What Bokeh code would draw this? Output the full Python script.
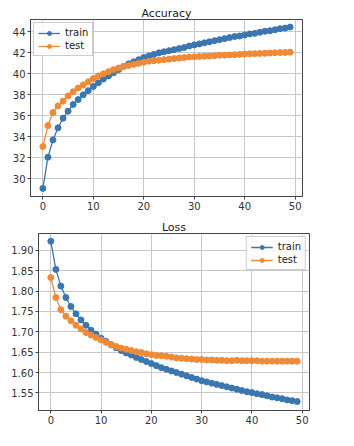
from bokeh.plotting import figure
from bokeh.layouts import column, row
from bokeh.models import Range1d, Legend, LegendItem, FixedTicker, CustomJSTickFormatter
from bokeh.embed import file_html
from bokeh.resources import INLINE

epochs = list(range(50))

acc_train = [29.1, 32.07, 33.71, 34.86, 35.78, 36.45, 37.08, 37.55, 38.0, 38.4,
             38.8, 39.15, 39.5, 39.8, 40.1, 40.4, 40.7, 40.95, 41.15, 41.35,
             41.55, 41.7, 41.85, 42.0, 42.1, 42.2, 42.3, 42.4, 42.5, 42.65,
             42.75, 42.85, 42.95, 43.05, 43.15, 43.25, 43.35, 43.45, 43.55, 43.6,
             43.7, 43.8, 43.85, 43.95, 44.05, 44.1, 44.2, 44.3, 44.35, 44.45]
acc_test = [33.08, 35.08, 36.31, 36.95, 37.4, 37.9, 38.3, 38.65, 38.95, 39.25,
            39.55, 39.8, 40.0, 40.2, 40.4, 40.55, 40.7, 40.8, 40.9, 41.0,
            41.1, 41.2, 41.25, 41.3, 41.35, 41.4, 41.45, 41.5, 41.55, 41.6,
            41.62, 41.65, 41.68, 41.7, 41.73, 41.76, 41.78, 41.8, 41.82, 41.85,
            41.88, 41.9, 41.92, 41.94, 41.96, 41.98, 42.0, 42.02, 42.04, 42.06]

loss_train = [1.922, 1.853, 1.812, 1.784, 1.762, 1.744, 1.729, 1.716, 1.704, 1.694,
              1.684, 1.676, 1.668, 1.661, 1.654, 1.648, 1.643, 1.637, 1.632, 1.627,
              1.622, 1.617, 1.612, 1.608, 1.604, 1.600, 1.596, 1.592, 1.588, 1.584,
              1.580, 1.577, 1.574, 1.571, 1.568, 1.565, 1.562, 1.559, 1.556, 1.553,
              1.551, 1.548, 1.546, 1.543, 1.540, 1.538, 1.536, 1.533, 1.531, 1.529]
loss_test = [1.833, 1.784, 1.754, 1.738, 1.727, 1.716, 1.707, 1.698, 1.692, 1.686,
             1.680, 1.674, 1.669, 1.664, 1.660, 1.657, 1.654, 1.651, 1.649, 1.646,
             1.644, 1.642, 1.641, 1.640, 1.638, 1.636, 1.635, 1.634, 1.633, 1.632,
             1.632, 1.631, 1.631, 1.630, 1.630, 1.629, 1.629, 1.630, 1.629, 1.629,
             1.629, 1.629, 1.628, 1.628, 1.628, 1.628, 1.628, 1.628, 1.628, 1.628]

x_ticks = [0, 10, 20, 30, 40, 50]
acc_ticks = [30, 32, 34, 36, 38, 40, 42, 44]
loss_ticks = [1.55, 1.60, 1.65, 1.70, 1.75, 1.80, 1.85, 1.90]

BLUE = "#3a76b0"
ORANGE = "#ef8a38"
FONT = "DejaVu Sans"


def style(p, yticks):
    p.title.text_font = FONT
    p.title.text_font_size = "11px"
    p.title.text_font_style = "normal"
    p.title.text_color = "#222222"
    p.title.align = "center"
    p.title.standoff = 0
    p.title.offset = 0
    p.title.text_line_height = 1.0
    p.outline_line_color = "#444444"
    p.outline_line_width = 1
    for ax in (p.xaxis[0], p.yaxis[0]):
        ax.axis_line_color = "#444444"
        ax.major_tick_line_color = "#444444"
        ax.major_tick_out = 3
        ax.major_tick_in = 0
        ax.minor_tick_line_color = None
        ax.major_label_text_font = FONT
        ax.major_label_text_font_size = "10px"
        ax.major_label_text_color = "#333333"
        ax.major_label_standoff = 2
        ax.axis_label_standoff = 0
    p.xaxis[0].ticker = FixedTicker(ticks=x_ticks)
    p.yaxis[0].ticker = FixedTicker(ticks=yticks)
    p.xgrid.ticker = FixedTicker(ticks=x_ticks)
    p.ygrid.ticker = FixedTicker(ticks=yticks)
    p.grid.grid_line_color = "#c8c8c8"
    p.grid.grid_line_width = 1
    p.background_fill_color = "white"
    p.border_fill_color = "white"


def add_series(p, ys, color):
    r1 = p.line(epochs, ys, line_color=color, line_width=1.3)
    r2 = p.scatter(epochs, ys, size=6, fill_color=color, line_color=color)
    return [r1, r2]


p1 = figure(frame_width=272, frame_height=177, title="Accuracy", output_backend="svg",
            toolbar_location=None, x_range=Range1d(-2.45, 51.45),
            y_range=Range1d(28.33, 45.17),
            min_border_left=30, min_border_right=52, min_border_top=19,
            min_border_bottom=19)
style(p1, acc_ticks)
tr1 = add_series(p1, acc_train, BLUE)
te1 = add_series(p1, acc_test, ORANGE)
leg1 = Legend(items=[LegendItem(label="train", renderers=tr1),
                     LegendItem(label="test", renderers=te1)],
              location="top_left")
p1.add_layout(leg1)

p2 = figure(frame_width=271, frame_height=177, title="Loss", output_backend="svg",
            toolbar_location=None, x_range=Range1d(-2.45, 51.45),
            y_range=Range1d(1.507, 1.941),
            min_border_left=38, min_border_right=45, min_border_top=18,
            min_border_bottom=36)
style(p2, loss_ticks)
p2.yaxis[0].formatter = CustomJSTickFormatter(code="return tick.toFixed(2);")
tr2 = add_series(p2, loss_train, BLUE)
te2 = add_series(p2, loss_test, ORANGE)
leg2 = Legend(items=[LegendItem(label="train", renderers=tr2),
                     LegendItem(label="test", renderers=te2)],
              location="top_right")
p2.add_layout(leg2)

for leg in (leg1, leg2):
    leg.label_text_font = FONT
    leg.label_text_font_size = "10px"
    leg.label_text_color = "#222222"
    leg.glyph_width = 22
    leg.glyph_height = 10
    leg.label_height = 10
    leg.spacing = 2
    leg.padding = 4
    leg.margin = 3
    leg.border_line_color = "#cccccc"
    leg.border_line_alpha = 1
    leg.background_fill_alpha = 0.85
    leg.label_standoff = 5

layout = column(row(p1), row(p2), spacing=0)
open("out.html", "w").write(file_html(layout, INLINE))
